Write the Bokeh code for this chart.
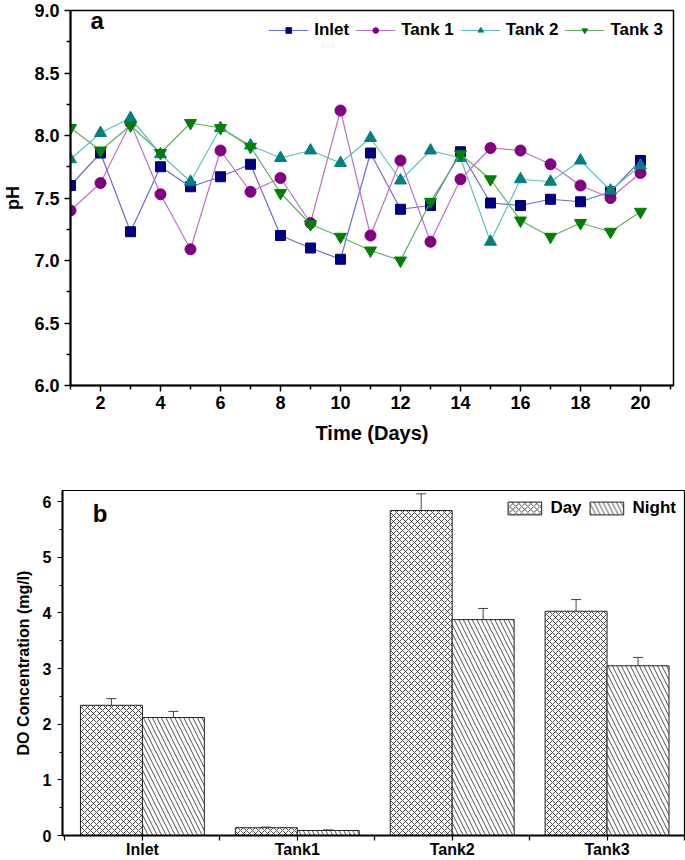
from bokeh.plotting import figure
from bokeh.layouts import column
from bokeh.models import (FixedTicker, Label, Legend, ColumnDataSource, Whisker,
                          TeeHead, PrintfTickFormatter)
from bokeh.embed import file_html
from bokeh.resources import INLINE

FONT = "Liberation Sans"

# ---- Data: panel a (pH) ----
days = list(range(1, 21))
ph_inlet = [7.60, 7.86, 7.23, 7.75, 7.59, 7.67, 7.77, 7.20, 7.10, 7.01,
            7.86, 7.41, 7.44, 7.87, 7.46, 7.44, 7.49, 7.47, 7.55, 7.80]
ph_tank1 = [7.40, 7.62, 8.10, 7.53, 7.09, 7.88, 7.55, 7.66, 7.30, 8.20,
            7.20, 7.80, 7.15, 7.65, 7.90, 7.88, 7.77, 7.60, 7.50, 7.70]
ph_tank2 = [7.81, 8.02, 8.14, 7.85, 7.63, 8.06, 7.92, 7.82, 7.88, 7.78,
            7.98, 7.64, 7.88, 7.82, 7.15, 7.65, 7.63, 7.80, 7.56, 7.76]
ph_tank3 = [8.06, 7.88, 8.08, 7.86, 8.10, 8.06, 7.91, 7.54, 7.29, 7.19,
            7.08, 7.00, 7.47, 7.85, 7.65, 7.32, 7.19, 7.30, 7.23, 7.39]

# ---- Data: panel b (DO) ----
sites = ["Inlet", "Tank1", "Tank2", "Tank3"]
do_day = [2.34, 0.14, 5.84, 4.03]
do_day_err = [0.12, 0.01, 0.30, 0.21]
do_night = [2.12, 0.09, 3.88, 3.05]
do_night_err = [0.11, 0.01, 0.20, 0.15]

# ================= Panel a =================
p1 = figure(width=685, height=446, x_range=(1, 21.1), y_range=(6, 9),
            output_backend="svg", toolbar_location=None,
            min_border_left=70, min_border_right=12, min_border_top=10,
            min_border_bottom=60)
p1.grid.visible = False
p1.outline_line_color = "black"
p1.outline_line_width = 1.5

series = [
    ("Inlet", ph_inlet, "#000080", "#6a6ad8", "square", 10),
    ("Tank 1", ph_tank1, "#800080", "#c070c8", "circle", 11),
    ("Tank 2", ph_tank2, "#008080", "#60c0c0", "triangle", 12),
    ("Tank 3", ph_tank3, "#008000", "#60b060", "inverted_triangle", 12),
]
items = []
for name, vals, mcol, lcol, marker, size in series:
    r1 = p1.line(days, vals, line_color=lcol, line_width=1.2)
    r2 = p1.scatter(days, vals, marker=marker, size=size, fill_color=mcol,
                    line_color=mcol)
    items.append((name, [r1, r2]))

leg = Legend(items=items, orientation="horizontal", location="top_right",
             border_line_alpha=0, background_fill_alpha=0,
             label_text_font=FONT, label_text_font_style="bold",
             label_text_font_size="17px", label_text_color="black",
             glyph_width=40, glyph_height=14,
             spacing=6, label_standoff=6, margin=6, padding=4)
p1.add_layout(leg)

p1.xaxis.ticker = FixedTicker(ticks=list(range(2, 21, 2)),
                              minor_ticks=list(range(1, 22, 2)))
p1.yaxis.ticker = FixedTicker(ticks=[6, 6.5, 7, 7.5, 8, 8.5, 9],
                              minor_ticks=[6.25, 6.75, 7.25, 7.75, 8.25, 8.75])
p1.yaxis.formatter = PrintfTickFormatter(format="%.1f")
for ax in (p1.xaxis[0], p1.yaxis[0]):
    ax.axis_line_width = 2
    ax.major_tick_line_width = 1.5
    ax.minor_tick_line_width = 1.5
    ax.major_tick_out = 6
    ax.major_tick_in = 0
    ax.minor_tick_out = 4
    ax.minor_tick_in = 0
    ax.major_label_text_font = FONT
    ax.major_label_text_font_style = "bold"
    ax.major_label_text_font_size = "18px"
    ax.major_label_text_color = "black"
    ax.axis_label_text_font = FONT
    ax.axis_label_text_font_style = "bold"
    ax.axis_label_text_color = "black"
p1.xaxis.major_label_standoff = 4
p1.yaxis.major_label_standoff = 5
p1.xaxis.axis_label = "Time (Days)"
p1.xaxis.axis_label_text_font_size = "20px"
p1.xaxis.axis_label_standoff = 10
p1.yaxis.axis_label = "pH"
p1.yaxis.axis_label_text_font_size = "18px"
p1.yaxis.axis_label_standoff = 8

p1.add_layout(Label(x=1.67, y=8.81, text="a", text_font=FONT,
                    text_font_style="bold", text_font_size="24px",
                    text_color="black"))

# ================= Panel b =================
xs = [1, 2, 3, 4]
p2 = figure(width=685, height=414, x_range=(0.484, 4.5), y_range=(0, 6.2),
            output_backend="svg", toolbar_location=None,
            min_border_left=62, min_border_right=1, min_border_top=44,
            min_border_bottom=20)
p2.grid.visible = False
p2.outline_line_color = "black"
p2.outline_line_width = 1.2

x_day = [x - 0.2 for x in xs]
x_night = [x + 0.2 for x in xs]
src_day = ColumnDataSource(dict(x=x_day, top=do_day,
                                upper=[v + e for v, e in zip(do_day, do_day_err)],
                                lower=[v - e for v, e in zip(do_day, do_day_err)]))
src_night = ColumnDataSource(dict(x=x_night, top=do_night,
                                  upper=[v + e for v, e in zip(do_night, do_night_err)],
                                  lower=[v - e for v, e in zip(do_night, do_night_err)]))

rd = p2.vbar(x="x", top="top", width=0.4, source=src_day, fill_color="white",
             line_color="#222222", line_width=1, hatch_pattern="x",
             hatch_color="#222222", hatch_scale=6, hatch_weight=0.8)
rn = p2.vbar(x="x", top="top", width=0.4, source=src_night, fill_color="white",
             line_color="#222222", line_width=1, hatch_pattern="\\",
             hatch_color="#222222", hatch_scale=9, hatch_weight=0.8)

for src in (src_day, src_night):
    w = Whisker(source=src, base="x", upper="upper", lower="lower",
                line_color="#444444", line_width=1,
                upper_head=TeeHead(size=10, line_color="#444444", line_width=1),
                lower_head=TeeHead(size=10, line_color="#444444", line_width=1))
    p2.add_layout(w)

leg2 = Legend(items=[("Day", [rd]), ("Night", [rn])], orientation="horizontal",
              location="top_right", border_line_alpha=0,
              background_fill_alpha=0, label_text_font=FONT,
              label_text_font_style="bold", label_text_font_size="17px",
              label_text_color="black",
              glyph_width=42, glyph_height=16, spacing=4, label_standoff=5,
              margin=5, padding=3)
p2.add_layout(leg2)

p2.xaxis.ticker = FixedTicker(ticks=xs, minor_ticks=[0.5, 1.5, 2.5, 3.5, 4.5])
p2.xaxis.major_label_overrides = {x: s for x, s in zip(xs, sites)}
p2.yaxis.ticker = FixedTicker(ticks=[0, 1, 2, 3, 4, 5, 6],
                              minor_ticks=[0.5, 1.5, 2.5, 3.5, 4.5, 5.5])
for ax in (p2.xaxis[0], p2.yaxis[0]):
    ax.axis_line_width = 2
    ax.major_tick_line_width = 1.2
    ax.minor_tick_line_width = 1.2
    ax.major_tick_out = 5
    ax.major_tick_in = 0
    ax.minor_tick_in = 0
    ax.major_label_text_font = FONT
    ax.major_label_text_font_style = "bold"
    ax.major_label_text_font_size = "16px"
    ax.major_label_text_color = "black"
    ax.axis_label_text_font = FONT
    ax.axis_label_text_font_style = "bold"
    ax.axis_label_text_color = "black"
p2.xaxis.minor_tick_out = 5
p2.yaxis.minor_tick_out = 3
p2.xaxis.major_label_standoff = 0
p2.yaxis.major_label_standoff = 6
p2.yaxis.axis_label = "DO Concentration (mg/l)"
p2.yaxis.axis_label_text_font_size = "16px"
p2.yaxis.axis_label_standoff = 8

p2.add_layout(Label(x=0.68, y=5.55, text="b", text_font=FONT,
                    text_font_style="bold", text_font_size="24px",
                    text_color="black"))

layout = column(column(p1), column(p2), spacing=0)
open("out.html", "w").write(file_html(layout, INLINE))
